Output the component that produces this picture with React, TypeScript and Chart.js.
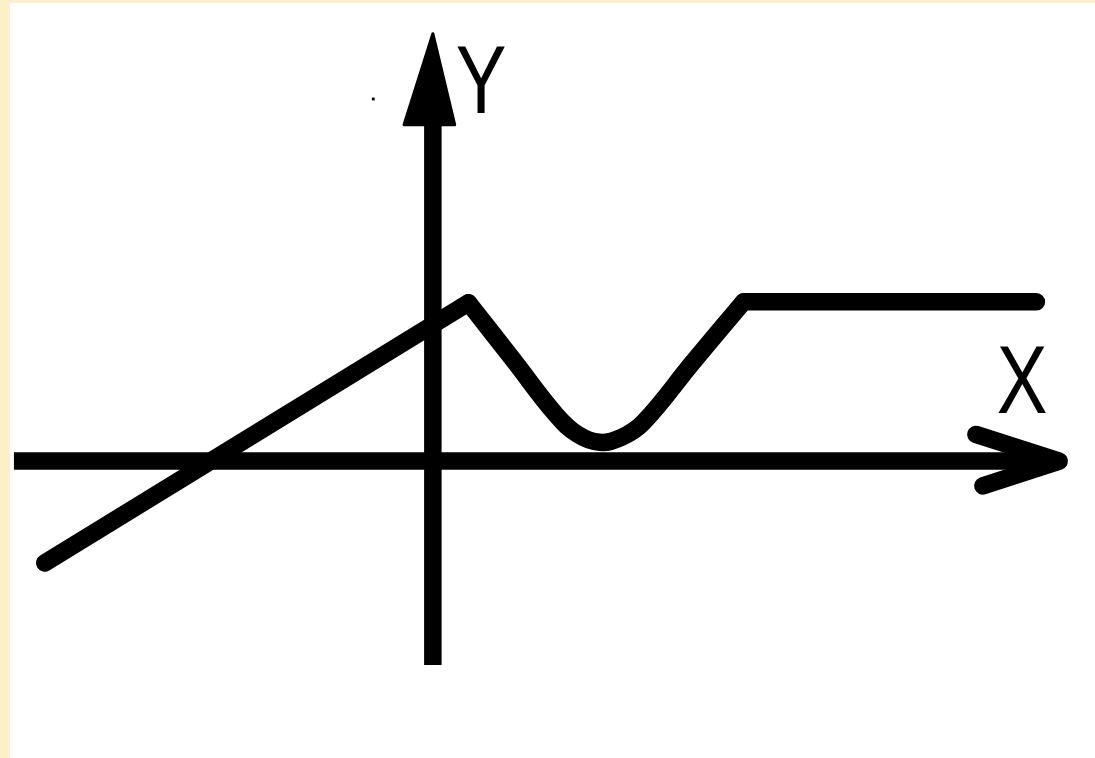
import React, { useEffect, useRef } from "react";
import { Chart, registerables } from "chart.js";

Chart.register(...registerables);

// Schematic function graph, in axis units (origin where the X and Y axes cross)
const leftLine = [
  { x: -9.775, y: -2.575 },
  { x: 0.9, y: 4.0 },
];
const valleyCurve = [
  { x: 0.9, y: 4.0 },
  { x: 2.05, y: 2.525 },
  { x: 3.1, y: 1.175 },
  { x: 3.65, y: 0.675 },
  { x: 4.2, y: 0.475 },
  { x: 4.75, y: 0.6 },
  { x: 5.3, y: 0.975 },
  { x: 6.55, y: 2.5 },
  { x: 7.825, y: 4.025 },
];
const plateau = [
  { x: 7.825, y: 4.025 },
  { x: 15.2, y: 4.025 },
];
const xAxisLine = [
  { x: -10.55, y: 0 },
  { x: 15.775, y: 0 },
];
const xArrowHead = [
  { x: 13.675, y: 0.675 },
  { x: 15.775, y: 0 },
  { x: 13.85, y: -0.625 },
];
const yAxisLine = [
  { x: 0, y: -5.15 },
  { x: 0, y: 8.8 },
];
const yArrowHead = [
  { x: 0, y: 10.8 },
  { x: -0.725, y: 8.5 },
  { x: 0.55, y: 8.5 },
  { x: 0, y: 10.8 },
];
const strayDot = [{ x: -1.5, y: 9.15 }];
const axisLabels = [
  { text: "X", x: 14.2, y: 1.225 },
  { text: "Y", x: 0.575, y: 8.8 },
];
const xRange = [-10.8, 16.575];
const yRange = [-7.4, 11.55];

const STROKE = 17.5;

const labelPlugin = {
  id: "axisLabels",
  afterDatasetsDraw(chart: any) {
    const { ctx, scales } = chart;
    ctx.save();
    ctx.fillStyle = "#000";
    ctx.font = '80px "Liberation Sans", Arial, sans-serif';
    ctx.textAlign = "left";
    ctx.textBaseline = "alphabetic";
    for (const l of axisLabels) {
      const px = scales.x.getPixelForValue(l.x);
      const py = scales.y.getPixelForValue(l.y);
      ctx.save();
      ctx.translate(px, py);
      ctx.scale(0.95, 1.2);
      ctx.fillText(l.text, 0, 0);
      ctx.restore();
    }
    ctx.restore();
  },
};

function lineDs(data: any[], extra: any = {}) {
  return {
    data,
    showLine: true,
    borderColor: "#000",
    backgroundColor: "#000",
    borderWidth: STROKE,
    borderCapStyle: "round",
    borderJoinStyle: "round",
    pointRadius: 0,
    pointHoverRadius: 0,
    tension: 0,
    fill: false,
    clip: false,
    ...extra,
  };
}

export default function App() {
  const ref = useRef<HTMLCanvasElement>(null);
  useEffect(() => {
    if (!ref.current) return;
    const chart = new Chart(ref.current, {
      type: "scatter",
      data: {
        datasets: [
          lineDs(xAxisLine, { borderCapStyle: "butt" }),
          lineDs(yAxisLine, { borderCapStyle: "butt" }),
          lineDs(yArrowHead, { borderWidth: 3, fill: "shape" }),
          lineDs(xArrowHead),
          lineDs(leftLine),
          lineDs(valleyCurve, { tension: 0.4 }),
          lineDs(plateau),
          {
            data: strayDot,
            showLine: false,
            pointRadius: 2,
            pointStyle: "rect",
            backgroundColor: "#000",
            borderColor: "#000",
            borderWidth: 0,
          },
        ] as any,
      },
      options: {
        responsive: false,
        animation: false,
        devicePixelRatio: 1,
        layout: { padding: 0 },
        events: [],
        plugins: {
          legend: { display: false },
          tooltip: { enabled: false },
          title: { display: false },
        },
        scales: {
          x: { type: "linear", min: xRange[0], max: xRange[1], display: false },
          y: { type: "linear", min: yRange[0], max: yRange[1], display: false },
        },
      },
      plugins: [labelPlugin],
    });
    return () => chart.destroy();
  }, []);

  return (
    <div
      style={{
        position: "fixed",
        left: 0,
        top: 0,
        width: 1095,
        height: 758,
        background: "#FDF0C8",
        overflow: "hidden",
      }}
    >
      <div
        style={{
          position: "absolute",
          left: 10,
          top: 3,
          right: 0,
          bottom: 0,
          background: "#FFFFFF",
        }}
      />
      <canvas
        ref={ref}
        width={1095}
        height={758}
        style={{ position: "absolute", left: 0, top: 0, display: "block" }}
      />
    </div>
  );
}
